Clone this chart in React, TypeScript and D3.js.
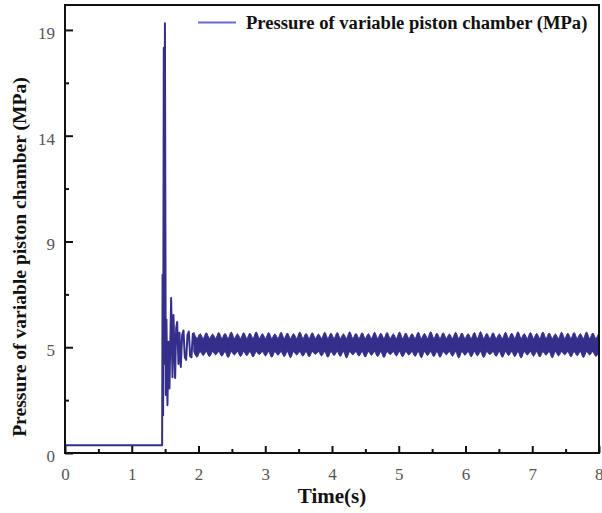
import React, { useEffect, useRef } from 'react';
import * as d3 from 'd3';

// tick labels
const xTickValues = [0, 1, 2, 3, 4, 5, 6, 7, 8];
const xMinorTicks = [0.5, 1.5, 2.5, 3.5, 4.5, 5.5, 6.5, 7.5];
const yTickValues = [0, 4.75, 9.5, 14.25, 19];
const yTickLabels = ['0', '5', '9', '14', '19'];
const yMinorTicks = [2.375, 7.125, 11.875, 16.625];

// start-up part of the pressure trace (s, MPa)
const transientTime = [
  0, 1.455, 1.462, 1.47, 1.48, 1.487, 1.497, 1.51, 1.52, 1.535, 1.55, 1.565,
  1.59, 1.61, 1.625, 1.65, 1.665, 1.68, 1.7, 1.715, 1.735, 1.755, 1.775,
  1.795, 1.815, 1.835, 1.855, 1.875, 1.895, 1.915, 1.93,
];
const transientValue = [
  0.35, 0.35, 8.0, 1.7, 18.2, 4.0, 19.3, 2.6, 6.0, 2.15, 5.0, 2.9,
  6.96, 3.4, 6.2, 3.37, 5.6, 5.88, 4.0, 5.4, 3.86, 5.3, 5.5,
  4.3, 4.18, 5.3, 5.45, 4.35, 4.3, 5.35, 4.85,
];

// steady oscillation band: start time, core edges and bump peaks (MPa)
const steadyStart = 1.93;
const steadyEnd = 8;
const coreTop = 5.15;
const coreBottom = 4.55;
const upperPeaks = [
  5.42, 5.36, 5.4, 5.34, 5.41, 5.37, 5.43, 5.35, 5.4, 5.38, 5.44, 5.36, 5.41,
  5.35, 5.42, 5.39, 5.36, 5.43, 5.37, 5.4, 5.34, 5.42, 5.38, 5.41, 5.35, 5.44,
  5.37, 5.4, 5.36, 5.42, 5.38, 5.41, 5.35, 5.43, 5.39, 5.36, 5.42, 5.37, 5.44,
  5.38, 5.4, 5.35, 5.42, 5.39, 5.36, 5.41, 5.45, 5.37, 5.4, 5.35, 5.42, 5.38,
  5.44, 5.36, 5.41, 5.37, 5.43, 5.39, 5.35, 5.42, 5.38, 5.41, 5.36, 5.43, 5.39,
];
const lowerPeaks = [
  4.3, 4.38, 4.33, 4.41, 4.35, 4.29, 4.4, 4.34, 4.37, 4.31, 4.42, 4.36, 4.3,
  4.39, 4.33, 4.28, 4.4, 4.35, 4.32, 4.43, 4.36, 4.3, 4.38, 4.34, 4.27, 4.41,
  4.35, 4.31, 4.39, 4.33, 4.29, 4.42, 4.36, 4.32, 4.4, 4.34, 4.28, 4.38, 4.33,
  4.3, 4.41, 4.35, 4.27, 4.39, 4.32, 4.36, 4.29, 4.42, 4.34, 4.3, 4.38, 4.33,
  4.27, 4.4, 4.35, 4.31, 4.39, 4.28, 4.36, 4.41, 4.32, 4.37, 4.29, 4.4, 4.34,
];

const seriesName = 'Pressure of variable piston chamber (MPa)';
const lineColor = '#352f8c';
const legendColor = '#6b6bd2';

const App = () => {
  const svgRef = useRef<SVGSVGElement>(null);

  useEffect(() => {
    if (!svgRef.current) return;
    const root = d3.select(svgRef.current);
    root.selectAll('*').remove();

    const width = 602;
    const height = 513;
    const margin = { top: 5, right: 3, bottom: 60, left: 65 };
    const plotW = width - margin.left - margin.right;
    const plotH = height - margin.top - margin.bottom;

    root.attr('width', width).attr('height', height);

    const svg = root.append('g')
      .attr('transform', `translate(${margin.left},${margin.top})`);

    const x = d3.scaleLinear().domain([0, 8]).range([0, plotW]);
    const y = d3.scaleLinear().domain([0, 20.12]).range([plotH, 0]);

    // clip for data
    root.append('defs').append('clipPath').attr('id', 'plot-clip')
      .append('rect').attr('width', plotW).attr('height', plotH);

    const dataG = svg.append('g').attr('clip-path', 'url(#plot-clip)');

    // steady band
    const bumpPeriod = (steadyEnd - steadyStart) / upperPeaks.length;
    const band: { t: number; hi: number; lo: number }[] = [];
    upperPeaks.forEach((p, i) => {
      band.push({ t: steadyStart + i * bumpPeriod, hi: p, lo: coreBottom });
      band.push({ t: steadyStart + (i + 0.5) * bumpPeriod, hi: coreTop, lo: lowerPeaks[i] });
    });
    band.push({ t: steadyEnd, hi: upperPeaks[0], lo: coreBottom });

    const area = d3.area<{ t: number; hi: number; lo: number }>()
      .x(d => x(d.t))
      .y0(d => y(d.lo))
      .y1(d => y(d.hi))
      .curve(d3.curveCardinal);

    dataG.append('path')
      .datum(band)
      .attr('d', area)
      .attr('fill', lineColor)
      .attr('stroke', lineColor)
      .attr('stroke-width', 1);

    // transient line
    const transient = transientTime.map((t, i) => ({ t, v: transientValue[i] }));
    const line = d3.line<{ t: number; v: number }>()
      .x(d => x(d.t))
      .y(d => y(d.v));

    dataG.append('path')
      .datum(transient)
      .attr('d', line)
      .attr('fill', 'none')
      .attr('stroke', lineColor)
      .attr('stroke-width', 2)
      .attr('stroke-linejoin', 'round');

    // axes
    const tickFont = '"Liberation Serif", "Times New Roman", serif';

    const xAxis = svg.append('g')
      .attr('transform', `translate(0,${plotH})`)
      .call(d3.axisBottom(x).tickValues(xTickValues).tickFormat(d3.format('d'))
        .tickSizeInner(-7).tickSizeOuter(0).tickPadding(15));
    xAxis.select('.domain').remove();
    xAxis.selectAll('line').attr('stroke', '#111').attr('stroke-width', 2);
    xAxis.selectAll('text')
      .attr('fill', '#555')
      .style('font-family', tickFont)
      .style('font-size', '17px');
    // last label sits at the right edge, nudge it in so it stays visible
    xAxis.selectAll('text').filter((d: any) => d === 8)
      .attr('text-anchor', 'end')
      .attr('dx', '4');

    const xMinor = svg.append('g')
      .attr('transform', `translate(0,${plotH})`)
      .call(d3.axisBottom(x).tickValues(xMinorTicks).tickFormat(() => '')
        .tickSizeInner(-4).tickSizeOuter(0));
    xMinor.select('.domain').remove();
    xMinor.selectAll('line').attr('stroke', '#111').attr('stroke-width', 2);

    const yAxis = svg.append('g')
      .call(d3.axisLeft(y).tickValues(yTickValues)
        .tickFormat((d, i) => yTickLabels[i])
        .tickSizeInner(-8).tickSizeOuter(0).tickPadding(10));
    yAxis.select('.domain').remove();
    yAxis.selectAll('line').attr('stroke', '#111').attr('stroke-width', 2);
    yAxis.selectAll('text')
      .attr('fill', '#555')
      .attr('dy', '0.5em')
      .style('font-family', tickFont)
      .style('font-size', '17px');

    const yMinor = svg.append('g')
      .call(d3.axisLeft(y).tickValues(yMinorTicks).tickFormat(() => '')
        .tickSizeInner(-4).tickSizeOuter(0));
    yMinor.select('.domain').remove();
    yMinor.selectAll('line').attr('stroke', '#111').attr('stroke-width', 2);

    // frame
    svg.append('rect')
      .attr('width', plotW)
      .attr('height', plotH)
      .attr('fill', 'none')
      .attr('stroke', '#111')
      .attr('stroke-width', 2);

    // axis titles
    svg.append('text')
      .attr('x', plotW / 2)
      .attr('y', plotH + 50)
      .attr('text-anchor', 'middle')
      .style('font-family', tickFont)
      .style('font-weight', 'bold')
      .style('font-size', '21px')
      .attr('fill', '#111')
      .text('Time(s)');

    root.append('text')
      .attr('transform', 'rotate(-90)')
      .attr('x', -257)
      .attr('y', 26)
      .attr('text-anchor', 'middle')
      .style('font-family', tickFont)
      .style('font-weight', 'bold')
      .style('font-size', '19.6px')
      .attr('fill', '#111')
      .text(seriesName);

    // legend
    const legend = root.append('g');
    legend.append('line')
      .attr('x1', 198).attr('x2', 236)
      .attr('y1', 22.5).attr('y2', 22.5)
      .attr('stroke', legendColor)
      .attr('stroke-width', 2);
    legend.append('text')
      .attr('x', 246)
      .attr('y', 28.5)
      .style('font-family', tickFont)
      .style('font-weight', 'bold')
      .style('font-size', '18.6px')
      .attr('fill', '#111')
      .text(seriesName);
  }, []);

  return (
    <svg
      ref={svgRef}
      style={{ position: 'absolute', left: 0, top: 0, background: '#fff' }}
    ></svg>
  );
};

export default App;
